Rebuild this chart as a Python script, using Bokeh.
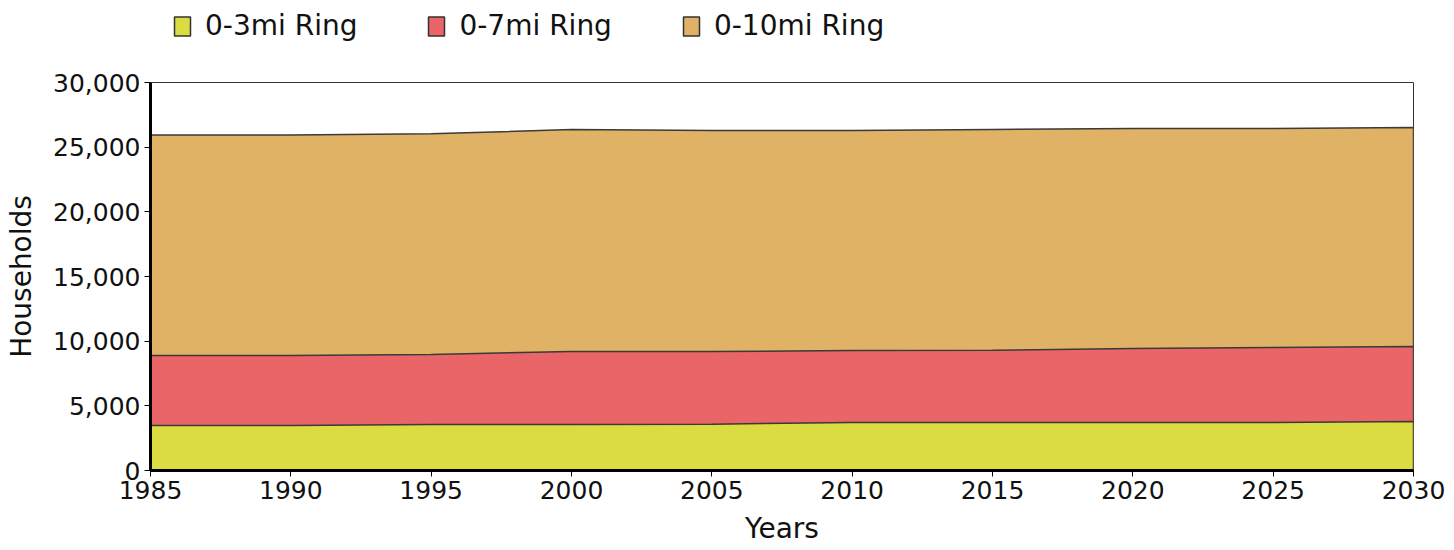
from bokeh.plotting import figure
from bokeh.layouts import column
from bokeh.models import Legend, LegendItem, NumeralTickFormatter, FixedTicker, Range1d
from bokeh.embed import file_html
from bokeh.resources import INLINE

years = [1985, 1990, 1995, 2000, 2005, 2010, 2015, 2020, 2025, 2030]
ring_3 = [3480, 3480, 3560, 3560, 3580, 3710, 3710, 3710, 3720, 3790]
ring_7 = [8890, 8890, 8970, 9200, 9200, 9280, 9290, 9430, 9510, 9590]
ring_10 = [25950, 25950, 26040, 26360, 26290, 26290, 26370, 26450, 26450, 26530]
series_names = ["0-3mi Ring", "0-7mi Ring", "0-10mi Ring"]
colors = ["#dadc41", "#e96567", "#e0b265"]
y_ticks = [0, 5000, 10000, 15000, 20000, 25000, 30000]
x_ticks = years

FONT = "DejaVu Sans"
LEG_H = 50

# ---- legend strip ----
lf = figure(width=1454, height=LEG_H, output_backend="svg", toolbar_location=None,
            x_range=Range1d(0, 1), y_range=Range1d(0, 1),
            min_border_left=150, min_border_right=41, min_border_top=0, min_border_bottom=0)
lf.axis.visible = False
lf.grid.visible = False
lf.outline_line_color = None
leg_items = []
for name, col in zip(series_names, colors):
    # off-range swatch used only for its legend glyph
    r = lf.quad(left=[5], right=[6], bottom=[5], top=[6], fill_color=col,
                line_color="#333333", line_width=1.5)
    leg_items.append(LegendItem(label=name, renderers=[r]))
legend = Legend(items=leg_items, orientation="horizontal", location=(22, 8),
                glyph_width=20, glyph_height=24, label_standoff=13, spacing=69,
                padding=0, margin=0, border_line_color=None, background_fill_alpha=0,
                label_text_font=FONT, label_text_font_size="28px", label_text_color="#111111")
lf.add_layout(legend, "center")

# ---- main chart ----
p = figure(width=1454, height=550 - LEG_H, output_backend="svg", toolbar_location=None,
           x_range=Range1d(1985, 2030), y_range=Range1d(0, 30000),
           min_border_left=150, min_border_right=41, min_border_top=82 - LEG_H, min_border_bottom=80)
p.grid.visible = False
p.outline_line_color = "#333333"
p.outline_line_width = 1
p.background_fill_color = "white"

for name, vals, col in reversed(list(zip(series_names, [ring_3, ring_7, ring_10], colors))):
    xs = list(years) + list(reversed(years))
    ys = list(vals) + [0] * len(vals)
    p.patch(xs, ys, fill_color=col, line_color="#3a3a3a", line_width=1.5)

for ax in (p.xaxis[0], p.yaxis[0]):
    ax.axis_line_width = 3
    ax.axis_line_color = "black"
    ax.major_tick_line_color = "black"
    ax.major_tick_line_width = 1
    ax.major_tick_out = 6
    ax.major_tick_in = 0
    ax.minor_tick_line_color = None
    ax.major_label_text_font = FONT
    ax.major_label_text_font_size = "25px"
    ax.major_label_text_color = "#111111"
    ax.axis_label_text_font = FONT
    ax.axis_label_text_font_size = "28px"
    ax.axis_label_text_font_style = "normal"
    ax.axis_label_text_color = "#111111"
    ax.major_label_standoff = 4

p.yaxis.ticker = FixedTicker(ticks=y_ticks)
p.yaxis.formatter = NumeralTickFormatter(format="0,0")
p.yaxis.axis_label = "Households"
p.yaxis.axis_label_standoff = 12
p.xaxis.ticker = FixedTicker(ticks=x_ticks)
p.xaxis.axis_label = "Years"
p.xaxis.axis_label_standoff = 10

layout = column(lf, p, spacing=0)
open("out.html", "w").write(file_html(layout, INLINE))
